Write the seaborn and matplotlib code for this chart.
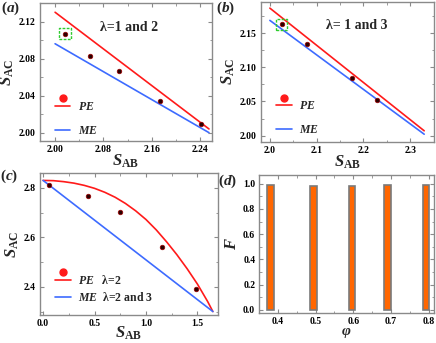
import matplotlib
matplotlib.use('Agg')
import matplotlib.pyplot as plt
import seaborn as sns
from matplotlib.lines import Line2D
from matplotlib.legend_handler import HandlerBase
from matplotlib.ticker import AutoMinorLocator

# ---- data ----
# (a) lambda = 1 and 2
a_sab = [2.017, 2.058, 2.106, 2.174, 2.242]
a_sac = [2.107, 2.083, 2.067, 2.034, 2.009]
a_line_x = [2.0, 2.255]
a_pe = [2.130, 2.004]
a_me = [2.096, 2.000]
a_xticks = [2.00, 2.08, 2.16, 2.24]
a_xlabels = ['2.00', '2.08', '2.16', '2.24']
a_yticks = [2.00, 2.04, 2.08, 2.12]
a_ylabels = ['2.00', '2.04', '2.08', '2.12']

# (b) lambda = 1 and 3
b_sab = [2.025, 2.080, 2.175, 2.230]
b_sac = [2.163, 2.134, 2.085, 2.052]
b_line_x = [2.0, 2.33]
b_pe = [2.187, 2.007]
b_me = [2.169, 2.002]
b_xticks = [2.0, 2.1, 2.2, 2.3]
b_xlabels = ['2.0', '2.1', '2.2', '2.3']
b_yticks = [2.00, 2.05, 2.10, 2.15]
b_ylabels = ['2.00', '2.05', '2.10', '2.15']

# (c) lambda = 2 (PE), 2 and 3 (ME)
c_sab = [0.061, 0.441, 0.747, 1.156, 1.483]
c_sac = [2.810, 2.768, 2.703, 2.561, 2.390]
c_pe_x = [0.0, 0.1, 0.2, 0.3, 0.4, 0.5, 0.6, 0.7, 0.8, 0.9, 1.0,
          1.1, 1.2, 1.3, 1.4, 1.5, 1.6, 1.65]
c_pe_y = [2.830, 2.829, 2.825, 2.819, 2.810, 2.798, 2.782, 2.762, 2.737, 2.707, 2.672,
          2.630, 2.582, 2.530, 2.473, 2.411, 2.340, 2.300]
c_me_x = [0.0, 1.65]
c_me_y = [2.830, 2.300]
c_xticks = [0.0, 0.5, 1.0, 1.5]
c_xlabels = ['0.0', '0.5', '1.0', '1.5']
c_yticks = [2.4, 2.6, 2.8]
c_ylabels = ['2.4', '2.6', '2.8']

# (d) fidelity
d_phi = [0.380, 0.495, 0.597, 0.690, 0.793]
d_F = [0.988, 0.982, 0.986, 0.987, 0.990]
d_xticks = [0.4, 0.5, 0.6, 0.7, 0.8]
d_xlabels = ['0.4', '0.5', '0.6', '0.7', '0.8']
d_yticks = [0.0, 0.2, 0.4, 0.6, 0.8, 1.0]
d_ylabels = ['0.0', '0.2', '0.4', '0.6', '0.8', '1.0']

RED = '#ff1a1a'
BLUE = '#3d6bff'
PT_FACE = '#2b0000'
PT_EDGE = '#a00000'
GREEN = '#2ecc2e'

sns.set_style('ticks')
plt.rcParams.update({
    'font.family': ['Liberation Serif', 'DejaVu Serif'],
    'font.weight': 'bold',
    'mathtext.fontset': 'custom',
    'mathtext.rm': 'Liberation Serif:bold',
    'mathtext.it': 'Liberation Serif:italic:bold',
    'mathtext.bf': 'Liberation Serif:bold',
    'axes.edgecolor': '#8a8a8a',
    'axes.linewidth': 1.0,
    'xtick.direction': 'in', 'ytick.direction': 'in',
    'xtick.top': True, 'ytick.right': True,
    'xtick.color': '#8a8a8a', 'ytick.color': '#8a8a8a',
    'xtick.labelcolor': 'black', 'ytick.labelcolor': 'black',
    'xtick.major.size': 3, 'ytick.major.size': 3,
    'xtick.minor.size': 1.8, 'ytick.minor.size': 1.8,
    'xtick.labelsize': 7, 'ytick.labelsize': 7,
    'xtick.major.pad': 3, 'ytick.major.pad': 3,
})


class DotOverLine(HandlerBase):
    # legend key: red dot sitting above the red line
    def create_artists(self, legend, orig_handle, xdescent, ydescent, width, height, fontsize, trans):
        y = height / 2 - ydescent
        line = Line2D([-xdescent, width - xdescent], [y, y], color=orig_handle.get_color(),
                      lw=orig_handle.get_linewidth(), transform=trans)
        dot = Line2D([width / 2 - xdescent], [y + 0.65 * fontsize], ls='', marker='o', ms=5,
                     color=orig_handle.get_color(), transform=trans)
        return [line, dot]


def frame(ax, xticks, xlabels, yticks, ylabels, xlim, ylim):
    ax.set_xlim(*xlim)
    ax.set_ylim(*ylim)
    ax.set_xticks(xticks)
    ax.set_xticklabels(xlabels)
    ax.set_yticks(yticks)
    ax.set_yticklabels(ylabels)
    ax.xaxis.set_minor_locator(AutoMinorLocator(2))
    ax.yaxis.set_minor_locator(AutoMinorLocator(2))
    ax.tick_params(which='both', top=True, right=True)
    for s in ax.spines.values():
        s.set_visible(True)


def theory_panel(ax, sx, sy, lx, pe, me, pe_x=None):
    if pe_x is None:
        pe_x = lx
    sns.lineplot(x=pe_x, y=pe, color=RED, lw=1.2, ax=ax, sort=False)
    sns.lineplot(x=lx, y=me, color=BLUE, lw=1.2, ax=ax, sort=False)
    sns.scatterplot(x=sx, y=sy, color=PT_FACE, edgecolor=PT_EDGE, linewidth=0.5, s=11, ax=ax, zorder=5)


def green_box(ax, sx, sy):
    sns.scatterplot(x=sx[:1], y=sy[:1], marker='s', s=72, facecolor='none', edgecolor=GREEN,
                    linewidth=1.0, linestyle=(0, (2, 1)), ax=ax, zorder=4)


def add_legend(ax, pe_label, me_label, anchor, spacing):
    pe_h = Line2D([], [], color=RED, lw=1.2)
    me_h = Line2D([], [], color=BLUE, lw=1.2)
    ax.legend([pe_h, me_h], [pe_label, me_label], handler_map={pe_h: DotOverLine()},
              loc='lower left', bbox_to_anchor=anchor, frameon=False, fontsize=8.5,
              handlelength=1.3, handletextpad=0.6, labelspacing=spacing, borderpad=0.2)


fig = plt.figure(figsize=(4.36, 3.43), dpi=100)
ax_a = fig.add_axes([40 / 436, 1 - 141 / 343, 172 / 436, 138 / 343])
ax_b = fig.add_axes([261 / 436, 1 - 141.7 / 343, 173 / 436, 139.7 / 343])
ax_c = fig.add_axes([40 / 436, 1 - 315 / 343, 178 / 436, 142 / 343])
ax_d = fig.add_axes([259.3 / 436, 1 - 313 / 343, 174.7 / 436, 138.3 / 343])

sab = r'$S_{\mathrm{AB}}$'
sac = r'$S_{\mathrm{AC}}$'

# (a)
theory_panel(ax_a, a_sab, a_sac, a_line_x, a_pe, a_me)
green_box(ax_a, a_sab, a_sac)
frame(ax_a, a_xticks, a_xlabels, a_yticks, a_ylabels, (1.975, 2.260), (1.991, 2.140))
ax_a.text(0.35, 0.826, 'λ=1 and 2', transform=ax_a.transAxes, fontsize=10, va='center')
add_legend(ax_a, r'$PE$', r'$ME$', (0.04, -0.03), 1.0)

# (b)
theory_panel(ax_b, b_sab, b_sac, b_line_x, b_pe, b_me)
green_box(ax_b, b_sab, b_sac)
frame(ax_b, b_xticks, b_xlabels, b_yticks, b_ylabels, (1.981, 2.351), (1.991, 2.196))
ax_b.text(0.376, 0.835, 'λ= 1 and 3', transform=ax_b.transAxes, fontsize=10, va='center')
add_legend(ax_b, r'$PE$', r'$ME$', (0.04, -0.02), 1.0)

# (c)
theory_panel(ax_c, c_sab, c_sac, c_me_x, c_pe_y, c_me_y, pe_x=c_pe_x)
frame(ax_c, c_xticks, c_xlabels, c_yticks, c_ylabels, (-0.03, 1.70), (2.286, 2.86))
add_legend(ax_c, r'$PE$   λ=2', r'$ME$  λ=2 and 3', (0.04, 0.02), 0.35)

# (d)
sns.barplot(x=d_phi, y=d_F, native_scale=True, orient='x', width=0.19, color='#ff6600',
            saturation=1, edgecolor='#7a7a7a', linewidth=1.2, errorbar=None, ax=ax_d)
frame(ax_d, d_xticks, d_xlabels, d_yticks, d_ylabels, (0.351, 0.814), (-0.026, 1.072))

for ax in (ax_a, ax_b):
    ax.set_xlabel(sab, fontsize=12, labelpad=-1)
    ax.set_ylabel(sac, fontsize=12, labelpad=2)
ax_c.set_xlabel(sab, fontsize=12, labelpad=-2.5)
ax_c.set_ylabel(sac, fontsize=12, labelpad=2)
ax_d.set_xlabel(r'$\varphi$', fontsize=11, labelpad=0)
ax_d.set_ylabel(r'$F$', fontsize=12, labelpad=2)

# panel tags
for tag, (px, py) in zip(['a', 'b', 'c', 'd'], [(1, 8), (216, 8), (0, 176), (218, 181)]):
    fig.text(px / 436, 1 - py / 343, '$(%s)$' % tag, fontsize=11, va='center', ha='left')

fig.savefig('out.png', dpi=100)
